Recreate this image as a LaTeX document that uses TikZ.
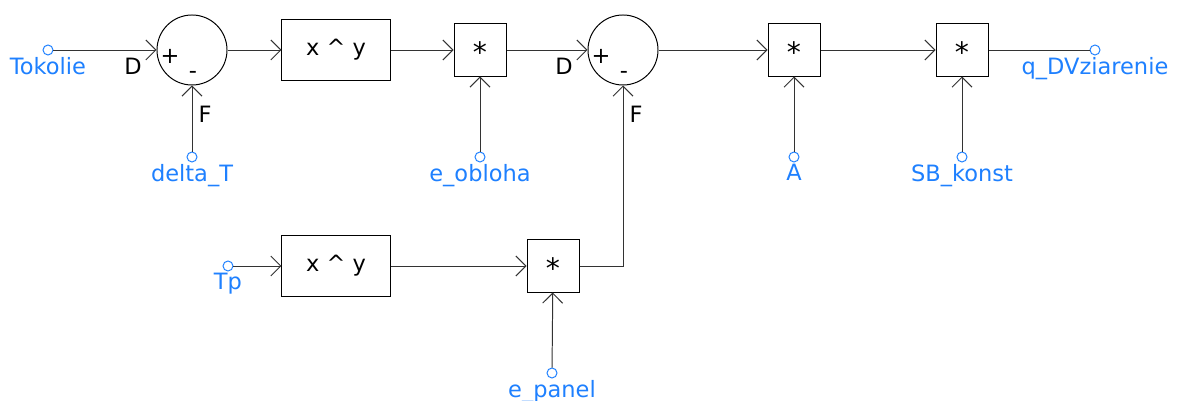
\documentclass[tikz,border=0pt]{standalone}
\usepackage{fontspec}
\setmainfont{DejaVu Sans}
\usetikzlibrary{arrows.meta, positioning, calc}
\definecolor{portblue}{RGB}{30,128,255}
\newcommand{\mulsign}{{\fontsize{20}{20}\selectfont\raisebox{-0.45em}[0pt][0pt]{*}}}

\begin{document}
\begin{tikzpicture}[x=0.025cm, y=0.025cm, font=\fontsize{16}{19}\selectfont,
    wire/.style={draw=black!80, line width=0.7pt},
    sig/.style={wire, -{Straight Barb[length=0.25cm, width=0.5cm]}},
    port/.style={circle, draw=portblue, line width=0.7pt, inner sep=0pt, minimum size=0.25cm},
    portlab/.style={text=portblue, inner sep=1pt},
    sumnode/.style={circle, draw, line width=0.7pt, minimum size=1.75cm, inner sep=0pt},
    powbox/.style={draw, line width=0.7pt, minimum width=2.7cm, minimum height=1.5cm},
    mulbox/.style={draw, line width=0.7pt, minimum size=1.3cm}]
    \useasboundingbox (0,0) rectangle (1199,401);
    \def\yT{351} \def\yM{244} \def\yB{135}
    % Blocks, top row
    \node[sumnode] (s1) at (192,\yT) {};
    \node[powbox] (pow1) at (336,\yT) {x \textasciicircum{} y};
    \node[mulbox] (m1) at (480,\yT) {\mulsign};
    \node[sumnode] (s2) at (623,\yT) {};
    \node[mulbox] (m2) at (794,\yT) {\mulsign};
    \node[mulbox] (m3) at (962,\yT) {\mulsign};
    % Blocks, bottom row
    \node[powbox] (pow2) at (336,\yB) {x \textasciicircum{} y};
    \node[mulbox] (m4) at (553,\yB) {\mulsign};
    % Ports
    \foreach \nm/\x/\y/\lab in {tok/48/\yT/Tokolie, dT/192/\yM/delta\_T,
        eo/480/\yM/e\_obloha, pA/794/\yM/A, sb/962/\yM/SB\_konst,
        out/1095/\yT/q\_DVziarenie, tp/228/\yB/Tp, ep/552/28/e\_panel}
        \node[port, label={[portlab]below:\lab}] (\nm) at (\x,\y) {};
    % Sum signs
    \foreach \s in {s1, s2} {
        \node (\s D) at ($(\s)+(-59,-16)$) {D};
        \node (\s P) at ($(\s)+(-22,-6)$) {+};
        \node (\s M) at ($(\s)+(1,-25)$) {-};
        \node (\s F) at ($(\s)+(13,-64)$) {F};
    }
    % Top chain
    \draw[sig] (tok) -- (s1);
    \draw[sig] (dT) -- (s1);
    \draw[sig] (s1) -- (pow1);
    \draw[sig] (pow1) -- (m1);
    \draw[sig] (eo) -- (m1);
    \draw[sig] (m1) -- (s2);
    \draw[sig] (s2) -- (m2);
    \draw[sig] (pA) -- (m2);
    \draw[sig] (m2) -- (m3);
    \draw[sig] (sb) -- (m3);
    \draw[wire] (m3) -- (out);
    % Bottom chain
    \draw[sig] (tp) -- (pow2);
    \draw[sig] (pow2) -- (m4);
    \draw[sig] (ep) -- (m4);
    \draw[sig] (m4) -| (s2);
\end{tikzpicture}
\end{document}
